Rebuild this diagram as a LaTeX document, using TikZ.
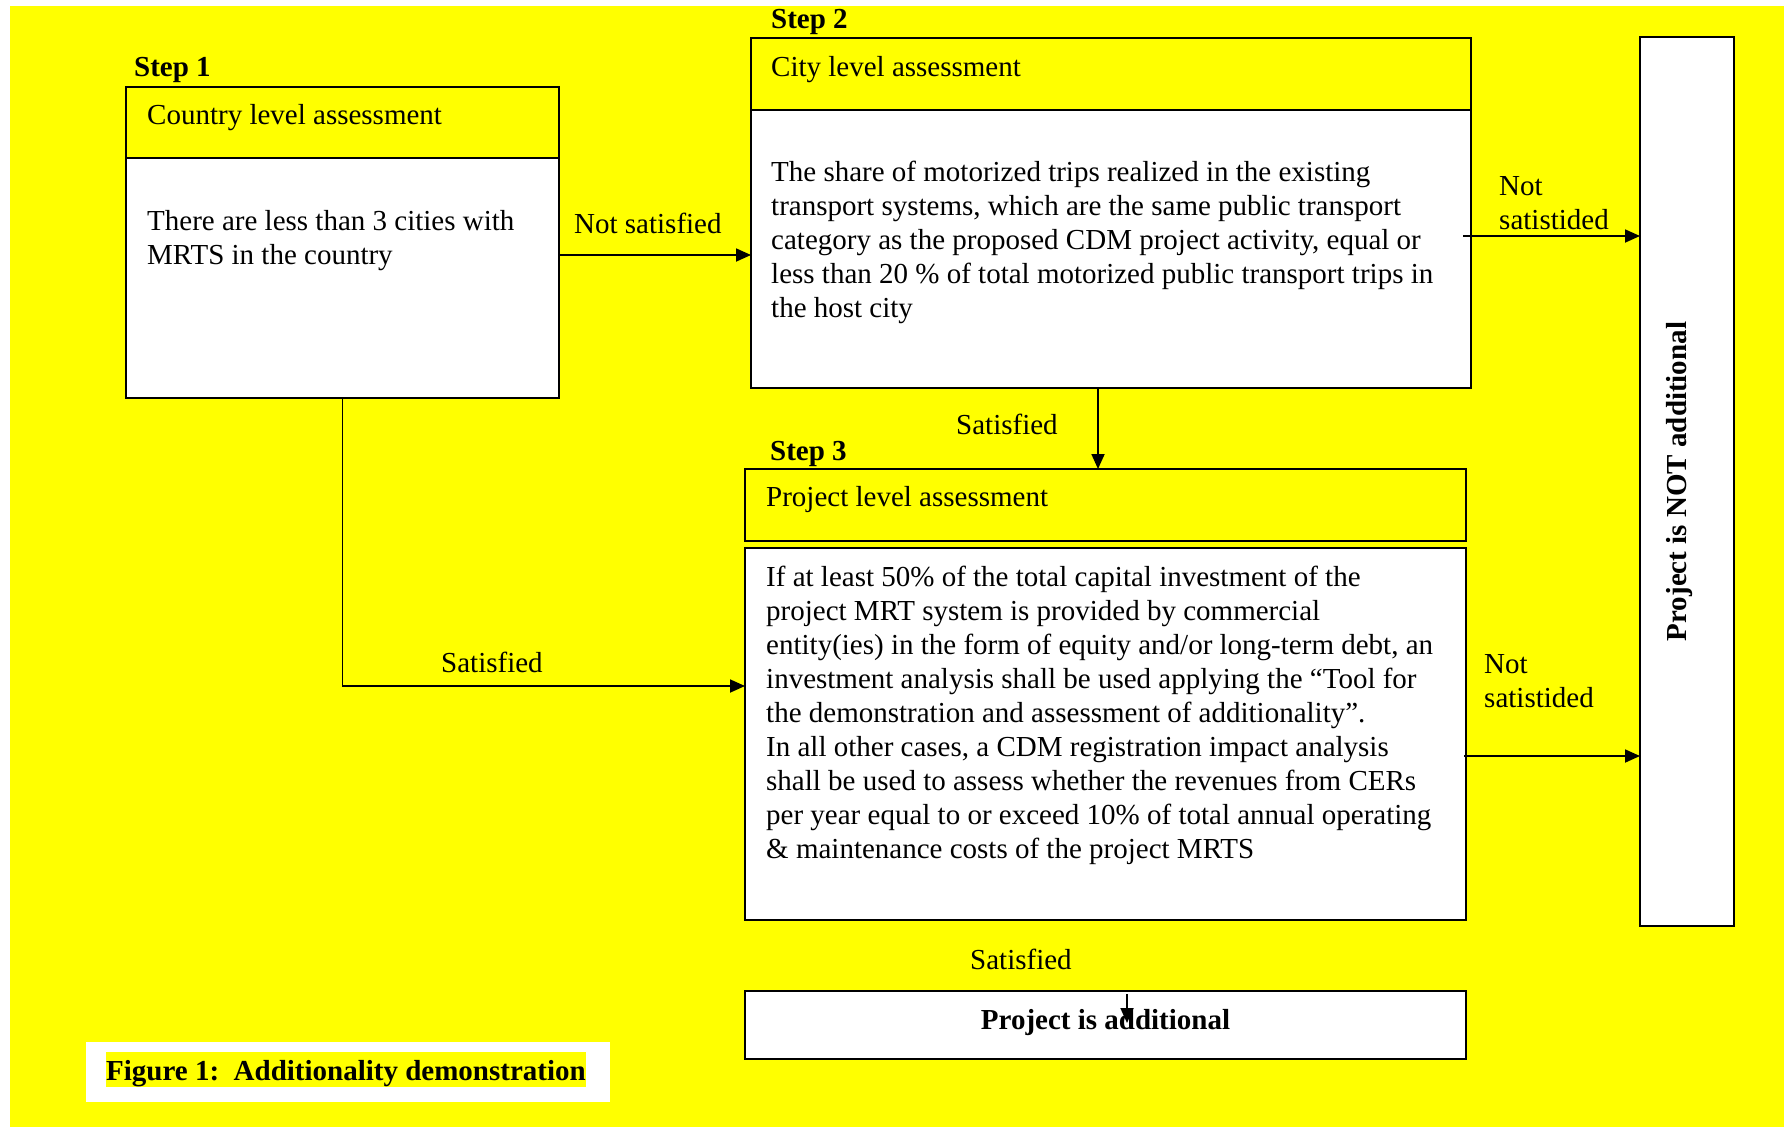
\documentclass[tikz,border=0pt]{standalone}
\usepackage{fontspec}
\setmainfont{Liberation Serif}
\usetikzlibrary{arrows.meta}
\definecolor{bgyellow}{RGB}{255,255,0}
\begin{document}
\begin{tikzpicture}[x=1pt,y=-1pt,
  box/.style={draw=black,line width=2.2pt,inner sep=0pt,outer sep=0pt},
  head/.style={box,fill=bgyellow},
  body/.style={box,fill=white},
  txt/.style={font=\fontsize{29}{34}\selectfont,inner sep=0pt,anchor=base west,align=left},
  btxt/.style={txt,font=\fontsize{29}{34}\selectfont\bfseries},
  conn/.style={line width=1.8pt},
  arr/.style={conn,-{Triangle[length=15pt,width=13pt]}}]
\useasboundingbox (0,0) rectangle (1784,1127);
\fill[white] (0,0) rectangle (1784,1127);
\fill[bgyellow] (10,6) rectangle (1784,1127);

% boxes
\node[head,minimum width=433pt,minimum height=71pt] (h1) at (342.5,122.5) {};
\node[body,minimum width=433pt,minimum height=240pt] (b1) at (342.5,278) {};
\node[head,minimum width=720pt,minimum height=72pt] (h2) at (1111,74) {};
\node[body,minimum width=720pt,minimum height=278pt] (b2) at (1111,249) {};
\node[head,minimum width=721pt,minimum height=72pt] (h3) at (1105.5,505) {};
\node[body,minimum width=721pt,minimum height=372pt] (b3) at (1105.5,734) {};
\node[body,minimum width=721pt,minimum height=68pt] (fin) at (1105.5,1025) {};
\node[body,minimum width=94pt,minimum height=889pt] (nadd) at (1687,481.5) {};
\node[btxt,anchor=center,rotate=90] (naddt) at (1679,481.5) {Project is NOT additional};

% caption
\node[fill=white,minimum width=524pt,minimum height=60pt,inner sep=0pt] (capbox) at (348,1072) {};
\node[btxt,fill=bgyellow,text height=28pt,text depth=7pt] (cap) at (106,1080) {Figure 1:\ \ Additionality demonstration};

% step labels
\node[btxt] (s1) at (134,76) {Step 1};
\node[btxt] (s2) at (771,28) {Step 2};
\node[btxt] (s3) at (770,460) {Step 3};

% box texts (multi-line nodes are placed by the baseline of their last line)
\node[txt] (h1t) at (147,124) {Country level assessment};
\node[txt] (b1t) at (147,264) {There are less than 3 cities with\\MRTS in the country};
\node[txt] (h2t) at (771,76) {City level assessment};
\node[txt] (b2t) at (771,317) {The share of motorized trips realized in the existing\\transport systems, which are the same public transport\\category as the proposed CDM project activity, equal or\\less than 20 \% of total motorized public transport trips in\\the host city};
\node[txt] (h3t) at (766,506) {Project level assessment};
\node[txt] (b3t) at (766,858) {If at least 50\% of the total capital investment of the\\project MRT system is provided by commercial\\entity(ies) in the form of equity and/or long-term debt, an\\investment analysis shall be used applying the “Tool for\\the demonstration and assessment of additionality”.\\In all other cases, a CDM registration impact analysis\\shall be used to assess whether the revenues from CERs\\per year equal to or exceed 10\% of total annual operating\\\& maintenance costs of the project MRTS};
\node[btxt,anchor=base] (fint) at (1105.5,1029) {Project is additional};

% connectors
\coordinate (r1) at (0,255);
\draw[arr] (b1.east |- r1) -- (b2.west |- r1);
\node[txt] (l1) at (574,233) {Not satisfied};

\coordinate (c2) at (1098,0);
\draw[arr] (b2.south -| c2) -- (h3.north -| c2);
\node[txt] (l2) at (956,434) {Satisfied};

\coordinate (r3) at (0,686);
\draw[arr] (b1.south) |- (b3.west |- r3);
\node[txt] (l3) at (441,672) {Satisfied};

\coordinate (o2) at (1463,236);
\draw[arr] (o2) -- (nadd.west |- o2);
\node[txt] (l4) at (1499,229) {Not\\satistided};

\coordinate (o3) at (1464,756);
\draw[arr] (o3) -- (nadd.west |- o3);
\node[txt] (l5) at (1484,707) {Not\\satistided};

\node[txt] (l6) at (970,969) {Satisfied};
\coordinate (fa) at (1127,994);
\draw[arr] (fa) -- ++(0,29);
\end{tikzpicture}
\end{document}
